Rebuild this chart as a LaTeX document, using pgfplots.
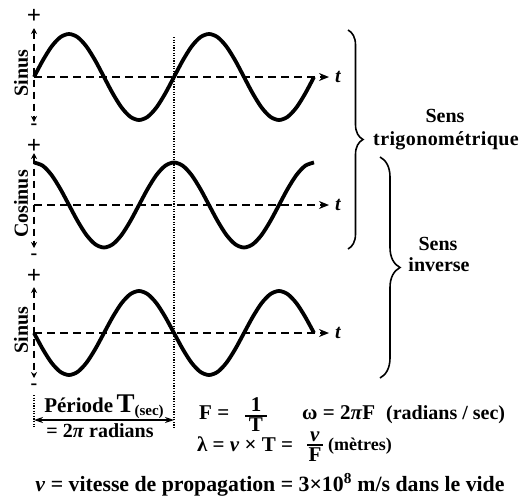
\documentclass[border=0pt]{standalone}
\usepackage{fontspec}
\setmainfont{Liberation Serif}
\usepackage{pgfplots}
\pgfplotsset{compat=1.18}
\usepackage{pgfplotstable}
\usetikzlibrary{arrows.meta,decorations.pathreplacing}

% two periods of the wave: phase in degrees, sine, cosine
\pgfplotstableread{
t s c
0 0 1
22.5 0.3827 0.9239
45 0.7071 0.7071
67.5 0.9239 0.3827
90 1 0
112.5 0.9239 -0.3827
135 0.7071 -0.7071
157.5 0.3827 -0.9239
180 0 -1
202.5 -0.3827 -0.9239
225 -0.7071 -0.7071
247.5 -0.9239 -0.3827
270 -1 0
292.5 -0.9239 0.3827
315 -0.7071 0.7071
337.5 -0.3827 0.9239
360 0 1
382.5 0.3827 0.9239
405 0.7071 0.7071
427.5 0.9239 0.3827
450 1 0
472.5 0.9239 -0.3827
495 0.7071 -0.7071
517.5 0.3827 -0.9239
540 0 -1
562.5 -0.3827 -0.9239
585 -0.7071 -0.7071
607.5 -0.9239 -0.3827
630 -1 0
652.5 -0.9239 0.3827
675 -0.7071 0.7071
697.5 -0.3827 0.9239
720 0 1
}\wave

\tikzset{
  txt/.style={inner sep=0pt,font=\fontsize{20}{24}\selectfont\bfseries},
  big/.style={txt,font=\fontsize{21}{24}\selectfont\bfseries},
  yax/.style={line width=1.6pt,dash pattern=on 7pt off 5pt,
    {Stealth[length=6pt,width=6pt]}-{Stealth[length=6pt,width=6pt]}},
  xax/.style={line width=1.8pt,dash pattern=on 8pt off 5pt,
    -{Stealth[length=10pt,width=8pt]}},
  wave/.style={black,line width=3.8pt,smooth,line join=round},
}

\begin{document}
\begin{tikzpicture}
\begin{axis}[width=523pt,height=499pt,scale only axis,
  xmin=0,xmax=523,ymin=0,ymax=499,y dir=reverse,
  hide axis,clip=false]

% period marker
\draw[line width=1.2pt,dash pattern=on 1.2pt off 1.4pt] (174,37) -- (174,428);
\draw[line width=1.2pt,dash pattern=on 1.2pt off 1.4pt] (34,395) -- (34,428);

% axes of the three panels
\draw[xax] (34,77) -- (329,77);
\draw[xax] (34,205) -- (329,205);
\draw[xax] (34,333) -- (329,333);
\draw[yax] (34,28) -- (34,122);
\draw[yax] (34,153) -- (34,248);
\draw[yax] (34,287) -- (34,378);

% the three waves
\addplot[wave] table[x expr={34+\thisrow{t}*140/360},y expr={77-43*\thisrow{s}}] {\wave};
\addplot[wave] table[x expr={34+\thisrow{t}*140/360},y expr={205-42.5*\thisrow{c}}] {\wave};
\addplot[wave] table[x expr={34+\thisrow{t}*140/360},y expr={333+42*\thisrow{s}}] {\wave};

% signs and axis names
\node[txt,font=\fontsize{25}{28}\selectfont\bfseries] at (34,16) {+};
\node[txt,font=\fontsize{25}{28}\selectfont\bfseries] at (34,146) {+};
\node[txt,font=\fontsize{25}{28}\selectfont\bfseries] at (34,276) {+};
\node[txt] at (34,127) {-};
\node[txt] at (34,257) {-};
\node[txt] at (34,387) {-};
\node[txt,rotate=90] at (21,73) {Sinus};
\node[txt,rotate=90] at (21,204) {Cosinus};
\node[txt,rotate=90] at (21,330) {Sinus};
\node[txt] at (338,77) {\itshape t};
\node[txt] at (338,205) {\itshape t};
\node[txt] at (338,333) {\itshape t};

% braces
\draw[line width=1.6pt,decorate,decoration={brace,amplitude=15pt}] (348,30) -- (348,249);
\draw[line width=1.6pt,decorate,decoration={brace,amplitude=20pt}] (380,157) -- (380,378);
\node[txt,anchor=base] at (445,122) {Sens};
\node[txt,anchor=base] at (446,145) {\addfontfeature{LetterSpace=2}trigonométrique};
\node[txt,anchor=base] at (438,250) {Sens};
\node[txt,anchor=base] at (439,271) {inverse};

% period
\draw[line width=1.4pt,{Stealth[length=9pt,width=6pt]}-{Stealth[length=9pt,width=6pt]}] (34,420) -- (174,420);
\node[big,anchor=base] at (104,412) {Période\,{\fontsize{27}{30}\selectfont T}\raisebox{-3pt}{\fontsize{15}{18}\selectfont (sec)}};
\node[txt,anchor=base] at (100,437) {= 2\textit{π} radians};

% F = 1/T
\node[big,anchor=base west] at (199,419) {F =};
\node[big,anchor=base] at (256,411) {1};
\draw[line width=2pt] (245,416) -- (267,416);
\node[big,anchor=base] at (256,431) {T};

% omega = 2 pi F
\node[big,anchor=base west] at (302,419) {ω = 2\textit{π}F};
\node[txt,anchor=base west] at (386,419) {(radians / sec)};

% lambda = v T = v/F
\node[big,anchor=base west] at (197,451) {λ = \textit{v} × T =};
\node[big,anchor=base] at (315,441) {\textit{v}};
\draw[line width=2pt] (307,445) -- (323,445);
\node[big,anchor=base] at (315,461) {F};
\node[txt,anchor=base west,font=\fontsize{18}{20}\selectfont\bfseries] at (328,450) {(mètres)};

\node[txt,anchor=base,font=\fontsize{21.8}{24}\selectfont\bfseries] at (270,491) {\textit{v} = vitesse de propagation = 3×10\textsuperscript{8} m/s dans le vide};

\coordinate (bl) at (0,499);
\coordinate (tr) at (523,0);
\end{axis}
\pgfresetboundingbox
\useasboundingbox (bl) rectangle (tr);
\end{tikzpicture}
\end{document}
